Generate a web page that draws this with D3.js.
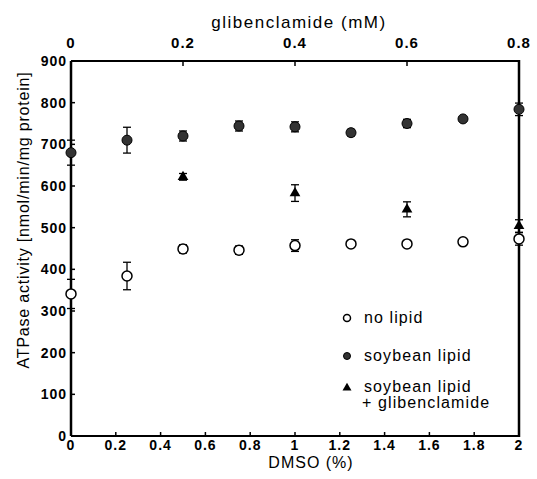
<!DOCTYPE html>
<html>
<head>
<meta charset="utf-8">
<script src="https://cdn.jsdelivr.net/npm/d3@7"></script>
<style>
  body { margin: 0; background: white; }
  text { font-family: "Liberation Sans", Arial, sans-serif; fill: black; }
</style>
</head>
<body>
<div id="canvas"></div>
<script>
"use strict"

/* Configuration variables: drawing */
let svgWidth = 537;
let svgHeight = 479;

let marginLeft = 71;
let marginRight = 18;
let marginTop = 61;
let marginBottom = 43;

// DATA
let dmsoNoLipid = [0, 0.25, 0.5, 0.75, 1, 1.25, 1.5, 1.75, 2];
let noLipid = [341, 384, 449, 446, 457, 461, 461, 466, 473];
let noLipidErr = [35, 33, 10, 10, 14, 8, 8, 5, 15];

let dmsoSoy = [0, 0.25, 0.5, 0.75, 1, 1.25, 1.5, 1.75, 2];
let soybean = [680, 710, 720, 744, 742, 728, 750, 761, 784];
let soybeanErr = [30, 31, 12, 12, 12, 8, 10, 6, 15];

let dmsoGlib = [0.5, 1, 1.5, 2];
let soyGlib = [622, 583, 544, 504];
let soyGlibErr = [8, 20, 18, 15];

let xTicks = [0, 0.2, 0.4, 0.6, 0.8, 1, 1.2, 1.4, 1.6, 1.8, 2];
let yTicks = [0, 100, 200, 300, 400, 500, 600, 700, 800, 900];
let glibTicks = [0, 0.2, 0.4, 0.6, 0.8];

let legendLabels = ["no lipid", "soybean lipid", "soybean lipid"];

/* Create drawing canvas */
let svg = d3.select("#canvas")
  .append("svg")
  .attr("width", svgWidth)
  .attr("height", svgHeight);

// scales
let xScale = d3.scaleLinear()
  .domain([0, 2])
  .range([marginLeft, svgWidth - marginRight]);

let glibScale = d3.scaleLinear()
  .domain([0, 0.8])
  .range([marginLeft, svgWidth - marginRight]);

let yScale = d3.scaleLinear()
  .domain([0, 900])
  .range([svgHeight - marginBottom, marginTop]);

let x0 = xScale(0), x1 = xScale(2), y0 = yScale(0), y1 = yScale(900);

// FRAME
svg.append("line").attr("x1", x0).attr("y1", y0).attr("x2", x1).attr("y2", y0)
  .attr("stroke", "black").attr("stroke-width", 2);
svg.append("line").attr("x1", x0).attr("y1", y1).attr("x2", x1).attr("y2", y1)
  .attr("stroke", "black").attr("stroke-width", 2);
svg.append("line").attr("x1", x0).attr("y1", y0).attr("x2", x0).attr("y2", y1)
  .attr("stroke", "black").attr("stroke-width", 2.5);
svg.append("line").attr("x1", x1).attr("y1", y0 + 1).attr("x2", x1).attr("y2", y1 - 1)
  .attr("stroke", "black").attr("stroke-width", 2.5);

// ticks (pointing inward)
svg.selectAll(".ytick")
  .data(yTicks)
  .join("line")
  .attr("x1", x0).attr("x2", x0 + 4)
  .attr("y1", d => yScale(d)).attr("y2", d => yScale(d))
  .attr("stroke", "black").attr("stroke-width", 1.5);

svg.selectAll(".xtick")
  .data(xTicks.slice(1, -1))
  .join("line")
  .attr("x1", d => xScale(d)).attr("x2", d => xScale(d))
  .attr("y1", y0).attr("y2", y0 - 4)
  .attr("stroke", "black").attr("stroke-width", 1.5);

svg.selectAll(".gtick")
  .data(glibTicks.slice(1, -1))
  .join("line")
  .attr("x1", d => glibScale(d)).attr("x2", d => glibScale(d))
  .attr("y1", y1).attr("y2", y1 + 5)
  .attr("stroke", "black").attr("stroke-width", 1.5);

// tick labels
for (let i = 0; i < xTicks.length; i++) {
  svg.append("text")
    .attr("x", xScale(xTicks[i]))
    .attr("y", 450)
    .style("text-anchor", "middle")
    .style("font-size", "14px")
    .style("font-weight", "bold")
    .style("letter-spacing", "1px")
    .text(xTicks[i])
}

for (let i = 0; i < yTicks.length; i++) {
  svg.append("text")
    .attr("x", x0 - 4)
    .attr("y", yScale(yTicks[i]) + 5)
    .style("text-anchor", "end")
    .style("font-size", "14px")
    .style("font-weight", "bold")
    .style("letter-spacing", "1px")
    .text(yTicks[i])
}

for (let i = 0; i < glibTicks.length; i++) {
  svg.append("text")
    .attr("x", glibScale(glibTicks[i]))
    .attr("y", 48)
    .style("text-anchor", "middle")
    .style("font-size", "15px")
    .style("font-weight", "bold")
    .style("letter-spacing", "1px")
    .text(glibTicks[i])
}

// axis labels
svg.append("text")
  .attr("x", 311)
  .attr("y", 468)
  .style("text-anchor", "middle")
  .style("font-size", "16px")
  .style("letter-spacing", "1px")
  .text("DMSO (%)")

svg.append("text")
  .attr("x", 299)
  .attr("y", 28)
  .style("text-anchor", "middle")
  .style("font-size", "17px")
  .style("letter-spacing", "1.5px")
  .text("glibenclamide (mM)")

svg.append("text")
  .attr("transform", "translate(29,220) rotate(-90)")
  .style("text-anchor", "middle")
  .style("font-size", "16px")
  .style("letter-spacing", "0.8px")
  .text("ATPase activity [nmol/min/mg protein]")

// error bars
function errorBars(xs, ys, errs) {
  for (let i = 0; i < xs.length; i++) {
    let cx = xScale(xs[i]);
    let top = yScale(ys[i] + errs[i]);
    let bot = yScale(ys[i] - errs[i]);
    svg.append("line").attr("x1", cx).attr("x2", cx).attr("y1", top).attr("y2", bot)
      .attr("stroke", "black").attr("stroke-width", 1.3);
    svg.append("line").attr("x1", cx - 4).attr("x2", cx + 4).attr("y1", top).attr("y2", top)
      .attr("stroke", "black").attr("stroke-width", 1.3);
    svg.append("line").attr("x1", cx - 4).attr("x2", cx + 4).attr("y1", bot).attr("y2", bot)
      .attr("stroke", "black").attr("stroke-width", 1.3);
  }
}

errorBars(dmsoNoLipid, noLipid, noLipidErr);
errorBars(dmsoSoy, soybean, soybeanErr);
errorBars(dmsoGlib, soyGlib, soyGlibErr);

let triangle = d3.symbol().type(d3.symbolTriangle).size(50);

// points
svg.selectAll(".nolipid")
  .data(d3.zip(dmsoNoLipid, noLipid))
  .join("circle")
  .attr("cx", d => xScale(d[0]))
  .attr("cy", d => yScale(d[1]))
  .attr("r", 5)
  .attr("fill", "white")
  .attr("stroke", "black")
  .attr("stroke-width", 1.5);

svg.selectAll(".soy")
  .data(d3.zip(dmsoSoy, soybean))
  .join("circle")
  .attr("cx", d => xScale(d[0]))
  .attr("cy", d => yScale(d[1]))
  .attr("r", 5)
  .attr("fill", "#333")
  .attr("stroke", "black")
  .attr("stroke-width", 1);

svg.selectAll(".glib")
  .data(d3.zip(dmsoGlib, soyGlib))
  .join("path")
  .attr("d", triangle)
  .attr("transform", d => "translate(" + xScale(d[0]) + "," + yScale(d[1]) + ")")
  .attr("fill", "black");

// LEGEND
svg.append("circle")
  .attr("cx", 347).attr("cy", 318).attr("r", 3.5)
  .attr("fill", "white").attr("stroke", "black").attr("stroke-width", 1.5);
svg.append("circle")
  .attr("cx", 347).attr("cy", 356).attr("r", 3.5)
  .attr("fill", "#333").attr("stroke", "black");
svg.append("path")
  .attr("d", d3.symbol().type(d3.symbolTriangle).size(35))
  .attr("transform", "translate(347,388)")
  .attr("fill", "black");

let legendY = [323, 361, 392];
for (let i = 0; i < legendLabels.length; i++) {
  svg.append("text")
    .attr("x", 364)
    .attr("y", legendY[i])
    .style("font-size", "16px")
    .style("letter-spacing", "1.1px")
    .text(legendLabels[i])
}
svg.append("text")
  .attr("x", 362)
  .attr("y", 408)
  .style("font-size", "16px")
  .style("letter-spacing", "1.1px")
  .text("+ glibenclamide")
</script>
</body>
</html>
